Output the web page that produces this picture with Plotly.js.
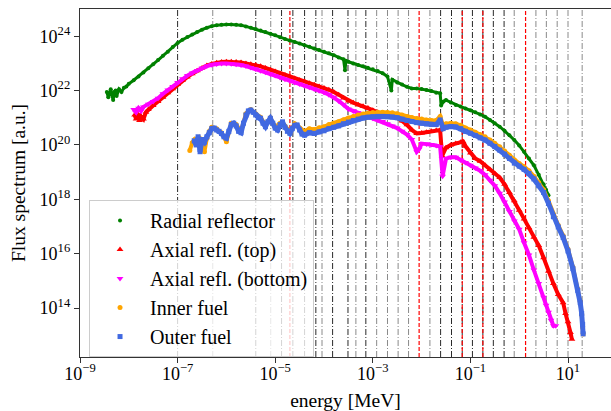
<!DOCTYPE html>
<html>
<head>
<meta charset="utf-8">
<script src="https://cdn.plot.ly/plotly-3.0.1.min.js"></script>
<style>html,body{margin:0;padding:0;background:#fff;}#chart{width:611px;height:411px;}</style>
</head>
<body>
<div id="chart"></div>
<script>
// ---- data: log10(energy [MeV]) and log10(flux [a.u.]) ----
const radialLogE = [-8.45,-8.42,-8.4,-8.37,-8.35,-8.32,-8.3,-8.27,-8.25,-8.2,-8.15,-8.1,-8.05,-8.0,-7.9,-7.8,-7.7,-7.6,-7.5,-7.4,-7.3,-7.2,-7.1,-7.0,-6.9,-6.8,-6.7,-6.6,-6.5,-6.4,-6.3,-6.2,-6.1,-6.0,-5.9,-5.8,-5.7,-5.6,-5.5,-5.4,-5.3,-5.2,-5.1,-5.0,-4.9,-4.8,-4.7,-4.6,-4.5,-4.4,-4.3,-4.2,-4.1,-4.0,-3.9,-3.8,-3.7,-3.6,-3.57,-3.55,-3.5,-3.4,-3.3,-3.2,-3.1,-3.0,-2.9,-2.8,-2.7,-2.62,-2.6,-2.5,-2.4,-2.3,-2.2,-2.1,-2.0,-1.9,-1.8,-1.7,-1.62,-1.6,-1.55,-1.5,-1.4,-1.3,-1.2,-1.1,-1.0,-0.9,-0.8,-0.7,-0.6,-0.5,-0.4,-0.3,-0.2,-0.1,0.0,0.1,0.2,0.3,0.4,0.5,0.55,0.6];
const radialLogFlux = [21.95,21.75,21.9,22.05,21.85,21.65,21.95,22.0,21.8,22.05,21.95,22.1,22.15,22.25,22.38,22.52,22.66,22.82,22.97,23.12,23.28,23.43,23.6,23.75,23.87,23.97,24.06,24.15,24.24,24.31,24.37,24.4,24.42,24.43,24.43,24.42,24.4,24.36,24.31,24.26,24.21,24.15,24.09,24.03,23.96,23.9,23.84,23.79,23.73,23.67,23.61,23.55,23.49,23.43,23.37,23.3,23.22,23.15,22.75,23.1,23.06,23.0,22.94,22.89,22.84,22.78,22.72,22.64,22.52,22.0,22.4,22.3,22.22,22.14,22.08,22.08,22.06,22.02,21.98,21.92,21.9,21.45,21.6,21.65,21.56,21.47,21.41,21.34,21.28,21.2,21.12,21.04,20.92,20.8,20.67,20.52,20.36,20.18,19.98,19.75,19.5,19.25,18.9,18.55,18.35,18.15];

const topLogE = [-7.88,-7.85,-7.82,-7.78,-7.75,-7.7,-7.65,-7.6,-7.5,-7.4,-7.3,-7.2,-7.1,-7.0,-6.9,-6.8,-6.7,-6.6,-6.5,-6.4,-6.3,-6.2,-6.1,-6.0,-5.9,-5.8,-5.7,-5.6,-5.5,-5.4,-5.3,-5.2,-5.1,-5.0,-4.9,-4.8,-4.7,-4.6,-4.5,-4.4,-4.3,-4.2,-4.1,-4.0,-3.9,-3.8,-3.7,-3.6,-3.5,-3.4,-3.3,-3.2,-3.1,-3.0,-2.9,-2.8,-2.7,-2.6,-2.5,-2.4,-2.3,-2.2,-2.1,-2.0,-1.9,-1.8,-1.7,-1.62,-1.58,-1.5,-1.4,-1.3,-1.2,-1.15,-1.1,-1.0,-0.9,-0.8,-0.7,-0.6,-0.5,-0.4,-0.3,-0.2,-0.1,0.0,0.1,0.2,0.3,0.4,0.5,0.6,0.7,0.8,0.9,0.95,1.0,1.05,1.08];
const topLogFlux = [21.1,20.95,21.15,20.9,21.05,20.95,21.2,21.3,21.45,21.6,21.75,21.92,22.07,22.22,22.37,22.5,22.62,22.73,22.83,22.92,22.98,23.02,23.05,23.06,23.06,23.05,23.03,23.0,22.97,22.94,22.89,22.83,22.77,22.7,22.63,22.57,22.5,22.44,22.38,22.33,22.27,22.21,22.15,22.09,22.03,21.95,21.85,21.73,21.62,21.55,21.48,21.42,21.36,21.28,21.2,21.14,21.1,21.06,21.0,20.88,20.74,20.55,20.42,20.44,20.47,20.5,20.53,20.55,19.6,19.9,20.0,20.05,20.1,20.12,19.95,19.7,19.5,19.4,19.25,19.1,18.95,18.8,18.55,18.25,17.95,17.6,17.28,16.95,16.6,16.3,15.85,15.35,14.9,14.5,14.2,13.8,13.5,13.1,12.85];

const bottomLogE = [-7.9,-7.85,-7.8,-7.75,-7.7,-7.6,-7.5,-7.4,-7.3,-7.2,-7.1,-7.0,-6.9,-6.8,-6.7,-6.6,-6.5,-6.4,-6.3,-6.2,-6.1,-6.0,-5.9,-5.8,-5.7,-5.6,-5.5,-5.4,-5.3,-5.2,-5.1,-5.0,-4.9,-4.8,-4.7,-4.6,-4.5,-4.4,-4.3,-4.2,-4.1,-4.0,-3.9,-3.8,-3.7,-3.6,-3.5,-3.4,-3.3,-3.2,-3.1,-3.0,-2.9,-2.8,-2.7,-2.6,-2.5,-2.4,-2.3,-2.2,-2.1,-2.05,-2.0,-1.9,-1.8,-1.7,-1.62,-1.57,-1.5,-1.4,-1.3,-1.2,-1.1,-1.0,-0.9,-0.8,-0.7,-0.6,-0.5,-0.4,-0.3,-0.2,-0.1,0.0,0.1,0.2,0.3,0.4,0.5,0.55,0.6,0.65,0.7,0.75];
const bottomLogFlux = [21.3,21.2,21.35,21.25,21.4,21.5,21.6,21.72,21.88,22.02,22.15,22.3,22.43,22.55,22.65,22.74,22.83,22.9,22.95,22.98,23.0,23.0,22.99,22.97,22.94,22.9,22.85,22.79,22.73,22.67,22.61,22.55,22.48,22.42,22.36,22.3,22.24,22.18,22.12,22.06,21.99,21.93,21.85,21.75,21.62,21.48,21.32,21.25,21.18,21.12,21.05,20.98,20.92,20.86,20.78,20.7,20.62,20.5,20.38,20.2,19.75,19.85,20.05,20.03,20.02,19.98,19.93,18.85,19.5,19.55,19.55,19.45,19.35,19.25,19.15,19.05,18.9,18.7,18.5,18.22,17.9,17.55,17.2,16.9,16.4,15.95,15.4,14.9,14.4,14.1,13.85,13.55,13.35,13.35];

const innerLogE = [-6.75,-6.7,-6.65,-6.6,-6.55,-6.5,-6.45,-6.4,-6.35,-6.3,-6.2,-6.1,-6.0,-5.9,-5.8,-5.7,-5.6,-5.5,-5.4,-5.3,-5.2,-5.1,-5.0,-4.9,-4.8,-4.7,-4.6,-4.5,-4.4,-4.3,-4.2,-4.1,-4.0,-3.9,-3.8,-3.7,-3.6,-3.5,-3.4,-3.3,-3.2,-3.1,-3.0,-2.9,-2.8,-2.7,-2.6,-2.5,-2.4,-2.3,-2.2,-2.1,-2.0,-1.9,-1.8,-1.7,-1.62,-1.56,-1.5,-1.4,-1.3,-1.2,-1.1,-1.0,-0.9,-0.8,-0.7,-0.6,-0.5,-0.4,-0.3,-0.2,-0.1,0.0,0.1,0.2,0.3,0.4,0.5,0.6,0.7,0.8,0.9,1.0,1.1,1.2,1.25,1.28,1.3,1.31];
const innerLogFlux = [19.8,20.08,20.2,20.1,20.25,20.1,19.75,20.25,20.5,20.65,20.6,20.45,20.12,20.8,20.75,20.5,21.15,21.3,21.15,21.02,20.72,21.0,20.66,20.8,20.7,20.5,20.78,20.62,20.5,20.6,20.57,20.63,20.67,20.75,20.8,20.85,20.93,20.99,21.05,21.1,21.14,21.17,21.19,21.2,21.2,21.19,21.18,21.15,21.1,21.05,21.01,20.97,20.95,20.92,20.9,20.9,21.05,20.72,20.78,20.8,20.78,20.72,20.62,20.55,20.47,20.38,20.3,20.18,20.06,19.93,19.78,19.62,19.45,19.32,19.2,19.05,18.85,18.62,18.35,17.95,17.45,17.05,16.66,16.16,15.5,14.7,14.25,13.75,13.3,13.05];

const outerLogE = [-6.66,-6.62,-6.58,-6.54,-6.5,-6.45,-6.4,-6.35,-6.3,-6.25,-6.2,-6.15,-6.1,-6.05,-6.0,-5.95,-5.9,-5.85,-5.8,-5.75,-5.7,-5.65,-5.6,-5.55,-5.5,-5.45,-5.4,-5.35,-5.3,-5.25,-5.2,-5.15,-5.1,-5.05,-5.0,-4.95,-4.9,-4.85,-4.8,-4.75,-4.7,-4.65,-4.6,-4.55,-4.5,-4.45,-4.4,-4.3,-4.2,-4.1,-4.0,-3.9,-3.8,-3.7,-3.6,-3.5,-3.4,-3.3,-3.2,-3.1,-3.0,-2.9,-2.8,-2.7,-2.6,-2.5,-2.4,-2.3,-2.2,-2.1,-2.0,-1.9,-1.8,-1.7,-1.62,-1.56,-1.5,-1.4,-1.3,-1.2,-1.1,-1.0,-0.9,-0.8,-0.7,-0.6,-0.5,-0.4,-0.3,-0.2,-0.1,0.0,0.1,0.2,0.3,0.4,0.5,0.6,0.7,0.8,0.9,1.0,1.1,1.2,1.25,1.28,1.3,1.31];
const outerLogFlux = [20.15,20.0,20.3,19.75,20.2,20.1,20.3,20.45,20.6,20.62,20.55,20.5,20.42,20.3,20.25,20.5,20.75,20.8,20.7,20.5,20.45,20.8,21.1,21.25,21.28,21.2,21.1,21.0,20.98,20.8,20.67,20.85,20.98,20.8,20.62,20.55,20.75,20.85,20.65,20.5,20.43,20.6,20.72,20.73,20.55,20.4,20.36,20.45,20.42,20.48,20.52,20.6,20.65,20.7,20.78,20.84,20.9,20.95,20.99,21.02,21.04,21.05,21.05,21.04,21.03,21.0,20.95,20.9,20.86,20.82,20.8,20.77,20.75,20.75,20.92,20.6,20.65,20.68,20.66,20.6,20.5,20.43,20.35,20.26,20.18,20.06,19.94,19.81,19.66,19.5,19.33,19.22,19.1,18.95,18.75,18.5,18.25,17.85,17.36,16.98,16.6,16.1,15.45,14.65,14.2,13.8,13.4,13.05];

// group-structure boundaries [MeV]
const darkBounds = [1.0e-7,4.0e-6,1.35e-5,2.3e-5,4.0e-5,6.8e-5,1.5e-4,3.1e-4,7.2e-4,2.45e-2,4.1e-2,6.8e-2,0.11,0.18,0.295,0.49];
const grayBounds = [5.25e-7,8.1e-6,9.1e-5,4.5e-4,1.2e-3,2.0e-3,3.3e-3,5.4e-3,1.48e-2,0.79,2.2,3.6,6.0,10,19.5];
const redBounds = [2.0e-5,8.9e-3,6.8e-2,0.18,1.35];

const seriesNames = ["Radial reflector","Axial refl. (top)","Axial refl. (bottom)","Inner fuel","Outer fuel"];
const xTickVals = [1e-9,1e-7,1e-5,1e-3,1e-1,1e1];
const xTickText = ["10<sup>−9</sup>","10<sup>−7</sup>","10<sup>−5</sup>","10<sup>−3</sup>","10<sup>−1</sup>","10<sup>1</sup>"];
const yTickVals = [1e14,1e16,1e18,1e20,1e22,1e24];
const yTickText = ["10<sup>14</sup>","10<sup>16</sup>","10<sup>18</sup>","10<sup>20</sup>","10<sup>22</sup>","10<sup>24</sup>"];

// ---- build ----
const pw = v => v.map(t => Math.pow(10, t));
const series = [
  {x: radialLogE, y: radialLogFlux, color: "#008000", symbol: "circle", size: 4, lw: 3},
  {x: topLogE, y: topLogFlux, color: "#ff0000", symbol: "triangle-up", size: 6, lw: 4},
  {x: bottomLogE, y: bottomLogFlux, color: "#ff00ff", symbol: "triangle-down", size: 6, lw: 4},
  {x: innerLogE, y: innerLogFlux, color: "#ffa500", symbol: "circle", size: 5, lw: 4},
  {x: outerLogE, y: outerLogFlux, color: "#4169e1", symbol: "square", size: 5, lw: 5}
];
const traces = [];
series.forEach((s, i) => {
  traces.push({x: pw(s.x), y: pw(s.y), mode: "lines", type: "scatter", showlegend: false,
    legendgroup: "g" + i, hoverinfo: "skip", line: {color: s.color, width: s.lw}});
  traces.push({x: pw(s.x), y: pw(s.y), mode: "markers", type: "scatter", name: seriesNames[i],
    legendgroup: "g" + i, marker: {color: s.color, symbol: s.symbol, size: s.size, line: {width: 0}}});
});

const shapes = [];
grayBounds.forEach(e => shapes.push({type: "line", xref: "x", yref: "paper", x0: e, x1: e, y0: 0, y1: 1, layer: "below",
  line: {color: "#8a8a8a", width: 1, dash: "6px,2px,1px,2px"}}));
darkBounds.forEach(e => shapes.push({type: "line", xref: "x", yref: "paper", x0: e, x1: e, y0: 0, y1: 1, layer: "below",
  line: {color: "#2a2a2a", width: 1, dash: "6px,2px,1px,2px"}}));
redBounds.forEach(e => shapes.push({type: "line", xref: "x", yref: "paper", x0: e, x1: e, y0: 0, y1: 1, layer: "below",
  line: {color: "#ff0000", width: 1.2, dash: "4px,2px"}}));

const font = "Liberation Serif, Times New Roman, serif";
const layout = {
  width: 611, height: 411,
  margin: {l: 80, r: 0, t: 9, b: 54, pad: 0},
  paper_bgcolor: "#fff", plot_bgcolor: "#fff",
  font: {family: font, color: "#000", size: 18},
  showlegend: true,
  legend: {x: 0.017, xanchor: "left", y: 0.451, yanchor: "top", bgcolor: "rgba(255,255,255,0.8)",
    bordercolor: "#cccccc", borderwidth: 1, font: {family: font, size: 20, color: "#000"},
    traceorder: "grouped", tracegroupgap: 0, itemwidth: 50},
  xaxis: {type: "log", range: [-9, 1.881], tickmode: "array", tickvals: xTickVals, ticktext: xTickText,
    showline: true, linecolor: "#333", linewidth: 1.2, mirror: true, ticks: "outside", ticklen: 5,
    tickcolor: "#333", showgrid: false, zeroline: false, tickfont: {family: font, size: 18},
    ticklabelstandoff: -5,
    title: {text: "energy [MeV]", font: {family: font, size: 19.5}, standoff: 10}, automargin: false},
  yaxis: {type: "log", range: [12.2, 25.0], tickmode: "array", tickvals: yTickVals, ticktext: yTickText,
    showline: true, linecolor: "#333", linewidth: 1.2, ticks: "outside", ticklen: 5,
    tickcolor: "#333", showgrid: false, zeroline: false, tickfont: {family: font, size: 18},
    title: {text: "Flux spectrum [a.u.]", font: {family: font, size: 19.5}, standoff: 8}, automargin: false},
  shapes: shapes
};
Plotly.newPlot("chart", traces, layout, {staticPlot: true, displayModeBar: false});
</script>
</body>
</html>
